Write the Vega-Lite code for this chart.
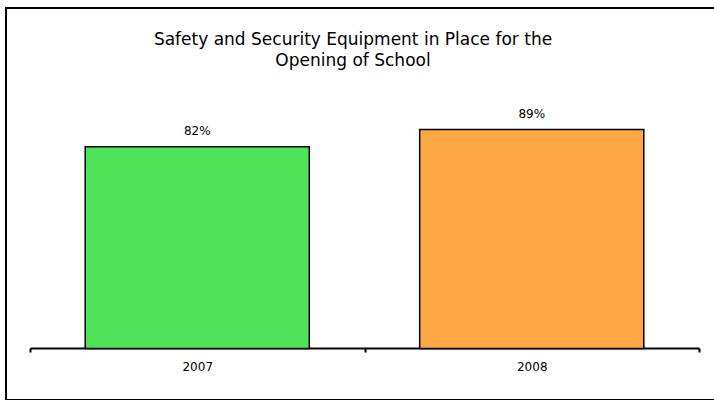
{
  "$schema": "https://vega.github.io/schema/vega-lite/v6.json",
  "autosize": "none",
  "width": 712,
  "height": 392,
  "padding": {"left": 6, "top": 8, "right": 0, "bottom": 0},
  "background": "white",
  "config": {
    "view": {"stroke": "black", "strokeWidth": 2},
    "font": "DejaVu Sans"
  },
  "title": {
    "text": ["Safety and Security Equipment in Place for the", "Opening of School"],
    "font": "DejaVu Sans",
    "fontSize": 17,
    "fontWeight": "normal",
    "lineHeight": 21,
    "anchor": "start",
    "frame": "group",
    "align": "center",
    "dx": 347,
    "dy": 62,
    "offset": 0,
    "color": "black"
  },
  "data": {
    "values": [
      {"year": "2007", "pct": 82, "label": "82%"},
      {"year": "2008", "pct": 89, "label": "89%"}
    ]
  },
  "encoding": {
    "x": {
      "field": "year",
      "type": "nominal",
      "sort": null,
      "scale": {"range": [24, 693], "paddingInner": 0, "paddingOuter": 0},
      "axis": {
        "title": null,
        "labelAngle": 0,
        "labelFont": "DejaVu Sans",
        "labelFontSize": 12,
        "labelColor": "black",
        "labelPadding": 9,
        "tickBand": "extent",
        "tickSize": 4,
        "tickColor": "black",
        "domainColor": "black",
        "domainWidth": 2,
        "tickWidth": 2,
        "offset": -52
      }
    },
    "y": {
      "field": "pct",
      "type": "quantitative",
      "scale": {"domain": [0, 100], "range": [340.5, 94.5]},
      "axis": null
    }
  },
  "layer": [
    {
      "mark": {"type": "bar", "width": {"band": 0.67}, "stroke": "black", "strokeWidth": 1.5},
      "encoding": {
        "color": {
          "field": "year",
          "type": "nominal",
          "scale": {"domain": ["2007", "2008"], "range": ["#50e35a", "#fda845"]},
          "legend": null
        }
      }
    },
    {
      "mark": {"type": "text", "baseline": "bottom", "dy": -9, "fontSize": 12, "font": "DejaVu Sans", "color": "black"},
      "encoding": {"text": {"field": "label"}}
    }
  ]
}
